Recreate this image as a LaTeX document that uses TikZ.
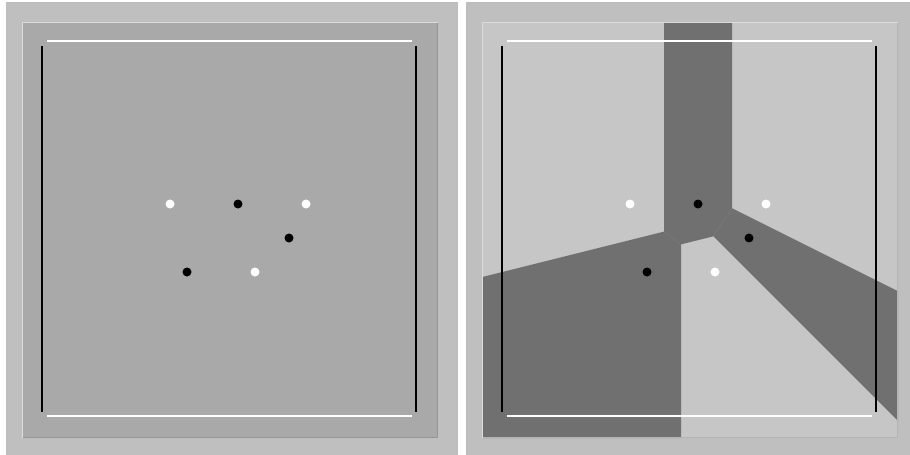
\documentclass[tikz,border=0pt]{standalone}
\begin{document}
\begin{tikzpicture}[x=1pt,y=-1pt,
  outerbg/.style={fill=bgouter,draw=none},
  wline/.style={draw=white,line width=2pt},
  bline/.style={draw=black,line width=2pt},
  darkcell/.style={fill=cellgray,draw=none},
  bdot/.style={circle,fill=black,inner sep=0pt,minimum size=9pt},
  wdot/.style={circle,fill=white,inner sep=0pt,minimum size=9pt}]
\definecolor{bgouter}{RGB}{191,191,191}
\definecolor{leftin}{RGB}{169,169,169}
\definecolor{rightin}{RGB}{198,198,198}
\definecolor{cellgray}{RGB}{112,112,112}
\definecolor{hilite}{RGB}{220,220,220}
\definecolor{shadeL}{RGB}{150,150,150}
\definecolor{shadeR}{RGB}{180,180,180}
\useasboundingbox (0,0) rectangle (910,455);
\fill[white] (0,0) rectangle (910,455);
% outer panels
\fill[outerbg] (6,2) rectangle (458,455);
\fill[outerbg] (466,2) rectangle (910,455);
% left inner square
\fill[leftin] (22,22) rectangle (438,438);
\draw[hilite,line width=1pt] (22.5,437.5) -- (22.5,22.5) -- (437.5,22.5);
\draw[shadeL,line width=1pt] (437.5,22.5) -- (437.5,437.5) -- (22.5,437.5);
% right inner square
\fill[rightin] (482,22) rectangle (898,438);
\begin{scope}
\clip (482,22) rectangle (898,438);
\fill[darkcell] (664,22) -- (664,231.6) -- (681,244.4) -- (713.3,236.3) -- (732,208.25) -- (732,22) -- cycle;
\fill[darkcell] (713.3,236.3) -- (732,208.25) -- (898,291.2) -- (898,421) -- cycle;
\fill[darkcell] (482,277.1) -- (664,231.6) -- (681,244.4) -- (681,438) -- (482,438) -- cycle;
\end{scope}
\draw[hilite,line width=1pt] (482.5,437.5) -- (482.5,22.5) -- (897.5,22.5);
\draw[shadeR,line width=1pt] (897.5,22.5) -- (897.5,437.5) -- (482.5,437.5);
% frame lines left
\draw[wline] (47,41) -- (412,41);
\draw[wline] (47,416) -- (412,416);
\draw[bline] (42,46) -- (42,412);
\draw[bline] (416,46) -- (416,412);
% frame lines right
\draw[wline] (507,41) -- (872,41);
\draw[wline] (507,416) -- (872,416);
\draw[bline] (502,46) -- (502,412);
\draw[bline] (876,46) -- (876,412);
% dots left
\node[wdot] (lw1) at (170,204) {};
\node[bdot] (lb1) at (238,204) {};
\node[wdot] (lw2) at (306,204) {};
\node[bdot] (lb2) at (289,238) {};
\node[bdot] (lb3) at (187,272) {};
\node[wdot] (lw3) at (255,272) {};
% dots right
\node[wdot] (rw1) at (630,204) {};
\node[bdot] (rb1) at (698,204) {};
\node[wdot] (rw2) at (766,204) {};
\node[bdot] (rb2) at (749,238) {};
\node[bdot] (rb3) at (647,272) {};
\node[wdot] (rw3) at (715,272) {};
\end{tikzpicture}
\end{document}
